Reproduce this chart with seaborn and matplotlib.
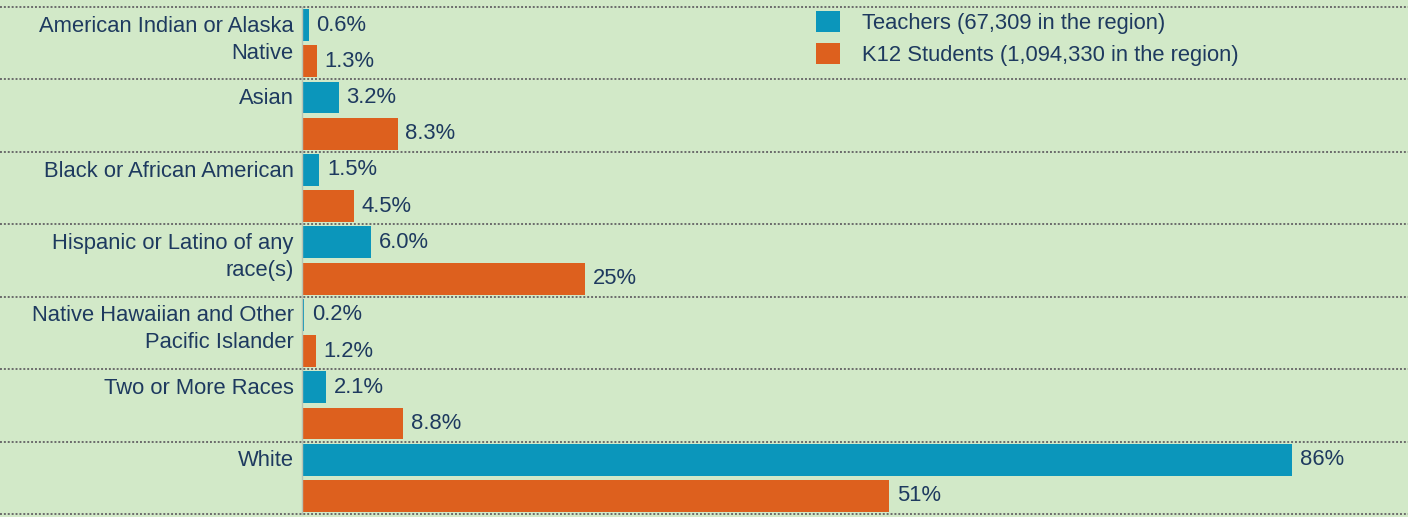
import matplotlib
matplotlib.use("Agg")
import matplotlib.pyplot as plt
import matplotlib.transforms as mtransforms
from matplotlib.patches import Patch
import numpy as np
import pandas as pd
import seaborn as sns

categories = [
    "American Indian or Alaska\nNative",
    "Asian",
    "Black or African American",
    "Hispanic or Latino of any\nrace(s)",
    "Native Hawaiian and Other\nPacific Islander",
    "Two or More Races",
    "White",
]
teachers = [0.6, 3.2, 1.5, 6.0, 0.2, 2.1, 86.0]
students = [1.3, 8.3, 4.5, 24.6, 1.2, 8.8, 51.0]
series_names = ["Teachers (67,309 in the region)", "K12 Students (1,094,330 in the region)"]

TEAL = "#0b96bb"
ORANGE = "#dd601e"
BG = "#d2e9c8"
TXT = "#1e3a5f"
FS = 15.8

sns.set_theme(style="white")
plt.rcParams["font.family"] = ["Liberation Sans", "DejaVu Sans"]

df = pd.DataFrame({
    "category": categories * 2,
    "value": teachers + students,
    "series": [series_names[0]] * len(categories) + [series_names[1]] * len(categories),
})

fig = plt.figure(figsize=(14.08, 5.17), dpi=100, facecolor=BG)
ax = fig.add_axes([302 / 1408, 3 / 517, 1 - 302 / 1408, 507 / 517])
ax.set_facecolor(BG)

sns.barplot(data=df, y="category", x="value", hue="series", orient="h",
            palette=[TEAL, ORANGE], width=1.0, gap=0.12, ax=ax,
            saturation=1, legend=False, errorbar=None, linewidth=0)

ax.set_xlim(0, (1408 - 302) / (990 / 86.0))
ax.set_ylim(len(categories) - 0.5, -0.5)
ax.set_xlabel("")
ax.set_ylabel("")
ax.set_xticks([])

def fmt(v):
    return f"{v:.0f}%" if v >= 10 else f"{v:.1f}%"

for cont, vals in zip(ax.containers, [teachers, students]):
    ax.bar_label(cont, labels=[fmt(v) for v in vals], padding=5.5,
                 fontsize=FS, color=TXT)

pos = np.arange(len(categories)) - 0.5 + 0.12
ax.set_yticks(pos)
ax.set_yticklabels(categories, fontsize=FS, color=TXT, va="top", linespacing=1.38)
ax.tick_params(axis="y", length=0, pad=6)

for s in ["top", "right", "bottom"]:
    ax.spines[s].set_visible(False)
ax.spines["left"].set_color("#b8c4b4")
ax.spines["left"].set_linewidth(1.0)

trans = mtransforms.blended_transform_factory(fig.transFigure, ax.transData)
for y in np.arange(len(categories) + 1) - 0.5:
    ax.plot([0.0, 1.0], [y, y], transform=trans, clip_on=False,
            color="#6b6b6b", linestyle=(0, (1, 1)), linewidth=1.4, zorder=5)

handles = [Patch(facecolor=TEAL, edgecolor="none"), Patch(facecolor=ORANGE, edgecolor="none")]
leg = fig.legend(handles, series_names, loc="upper left",
                 bbox_to_anchor=(816 / 1408, 1 - 11 / 517), frameon=False,
                 fontsize=FS, handlelength=1.1, handleheight=1.1,
                 handletextpad=1.0, labelspacing=0.42, borderpad=0, borderaxespad=0)
for t in leg.get_texts():
    t.set_color(TXT)

fig.savefig("out.png", dpi=100, facecolor=BG)
